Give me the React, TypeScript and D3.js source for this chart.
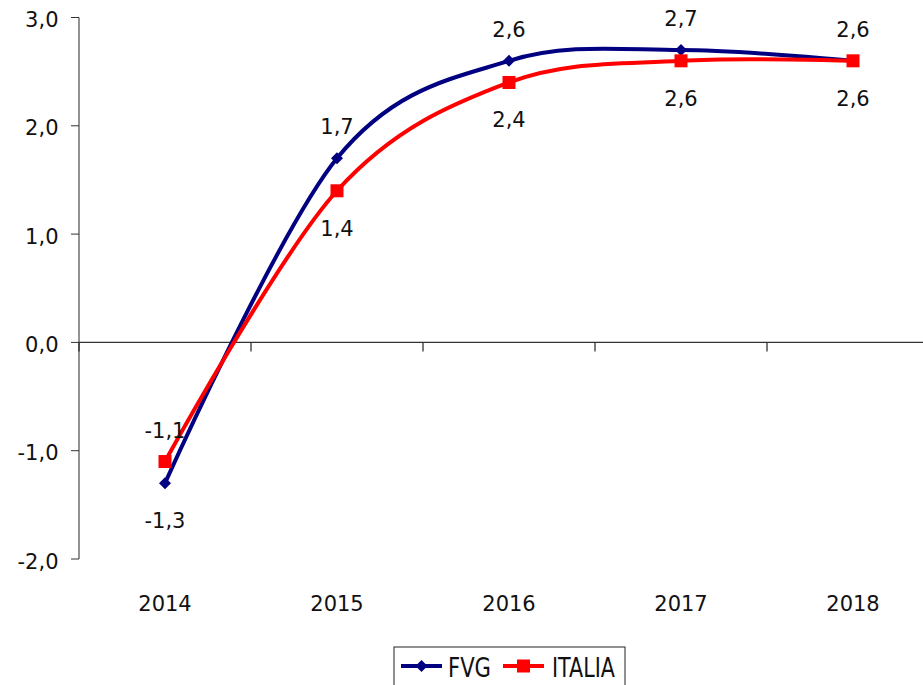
import { useEffect, useRef } from 'react';
import * as d3 from 'd3';

const years = ['2014', '2015', '2016', '2017', '2018'];
const fvg = [-1.3, 1.7, 2.6, 2.7, 2.6];
const italia = [-1.1, 1.4, 2.4, 2.6, 2.6];
const yTicks = [-2, -1, 0, 1, 2, 3];

const fmt = (v: number) => v.toFixed(1).replace('.', ',');

const App = () => {
  const ref = useRef<SVGSVGElement | null>(null);

  useEffect(() => {
    if (!ref.current) return;
    const svg = d3.select(ref.current);
    svg.selectAll('*').remove();

    const font = 'DejaVu Sans, Verdana, sans-serif';
    const left = 79;
    const x = d3.scaleBand<string>().domain(years).range([left, left + 172 * years.length]).padding(0);
    const y = d3.scaleLinear().domain([-2, 3]).range([559, 17.5]);
    const cx = (d: string) => (x(d) || 0) + x.bandwidth() / 2;

    // y axis
    svg.append('line')
      .attr('x1', left).attr('x2', left)
      .attr('y1', y(3)).attr('y2', y(-2))
      .attr('stroke', '#4a4a4a').attr('stroke-width', 1.2);
    yTicks.forEach((t) => {
      svg.append('line')
        .attr('x1', left - 8).attr('x2', left)
        .attr('y1', y(t)).attr('y2', y(t))
        .attr('stroke', '#333').attr('stroke-width', 1);
      svg.append('text')
        .attr('x', 58.5).attr('y', y(t) + 9.5)
        .attr('text-anchor', 'end')
        .style('font-family', font).style('font-size', '21px')
        .attr('fill', '#111')
        .text(fmt(t));
    });

    // x axis on zero line
    svg.append('line')
      .attr('x1', left).attr('x2', 923)
      .attr('y1', y(0)).attr('y2', y(0))
      .attr('stroke', '#333').attr('stroke-width', 1.2);
    years.forEach((yr) => {
      const bx = x(yr) || 0;
      svg.append('line')
        .attr('x1', bx).attr('x2', bx)
        .attr('y1', y(0)).attr('y2', y(0) + 9)
        .attr('stroke', '#222').attr('stroke-width', 1.2);
      svg.append('text')
        .attr('x', cx(yr)).attr('y', 611)
        .attr('text-anchor', 'middle')
        .style('font-family', font).style('font-size', '21px')
        .attr('fill', '#111')
        .text(yr);
    });

    const line = d3.line<number>()
      .x((_, i) => cx(years[i]))
      .y((d) => y(d))
      .curve(d3.curveCardinal.tension(0));

    const series = [
      { name: 'FVG', values: fvg, other: italia, color: '#000080', marker: 'diamond' },
      { name: 'ITALIA', values: italia, other: fvg, color: '#ff0000', marker: 'square' },
    ];

    series.forEach((s) => {
      svg.append('path')
        .attr('d', line(s.values) || '')
        .attr('fill', 'none')
        .attr('stroke', s.color)
        .attr('stroke-width', 4);
    });

    series.forEach((s) => {
      s.values.forEach((v, i) => {
        const px = cx(years[i]);
        const py = y(v);
        if (s.marker === 'diamond') {
          svg.append('path')
            .attr('d', `M${px},${py - 6}L${px + 6},${py}L${px},${py + 6}L${px - 6},${py}Z`)
            .attr('fill', s.color);
        } else {
          svg.append('rect')
            .attr('x', px - 6.5).attr('y', py - 6.5)
            .attr('width', 13).attr('height', 13)
            .attr('fill', s.color);
        }
        const above = s.name === 'FVG' ? v >= s.other[i] : v > s.other[i];
        svg.append('text')
          .attr('x', px).attr('y', above ? py - 24 : py + 45)
          .attr('text-anchor', 'middle')
          .style('font-family', font).style('font-size', '21px')
          .attr('fill', '#111')
          .text(fmt(v));
      });
    });

    // legend
    const lg = svg.append('g').attr('transform', 'translate(394,647)');
    lg.append('rect')
      .attr('x', 0).attr('y', 0).attr('width', 231).attr('height', 50)
      .attr('fill', '#fff').attr('stroke', '#222').attr('stroke-width', 1);
    const items = [
      { s: series[0], lx: 7, tx: 54, tw: 43 },
      { s: series[1], lx: 109, tx: 158, tw: 63 },
    ];
    items.forEach(({ s, lx, tx, tw }) => {
      lg.append('line')
        .attr('x1', lx).attr('x2', lx + 41)
        .attr('y1', 19).attr('y2', 19)
        .attr('stroke', s.color).attr('stroke-width', 4);
      const mx = lx + 20.5;
      if (s.marker === 'diamond') {
        lg.append('path')
          .attr('d', `M${mx},13L${mx + 6},19L${mx},25L${mx - 6},19Z`)
          .attr('fill', s.color);
      } else {
        lg.append('rect')
          .attr('x', mx - 6.5).attr('y', 12.5).attr('width', 13).attr('height', 13)
          .attr('fill', s.color);
      }
      lg.append('text')
        .attr('x', tx).attr('y', 30)
        .attr('textLength', tw).attr('lengthAdjust', 'spacingAndGlyphs')
        .style('font-family', font).style('font-size', '26px')
        .attr('fill', '#111')
        .text(s.name);
    });
  }, []);

  return (
    <svg
      ref={ref}
      width={923}
      height={685}
      style={{ position: 'absolute', left: 0, top: 0, background: '#fff' }}
    />
  );
};

export default App;
